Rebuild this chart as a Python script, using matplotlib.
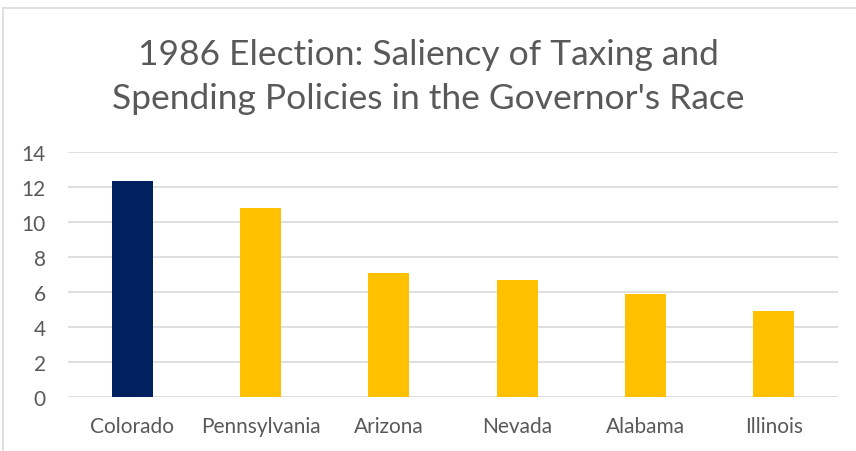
import matplotlib.pyplot as plt
from matplotlib.patches import Rectangle

states = ['Colorado', 'Pennsylvania', 'Arizona', 'Nevada', 'Alabama', 'Illinois']
saliency = [12.35, 10.8, 7.1, 6.7, 5.9, 4.9]
bar_colors = ['#002060', '#FFC000', '#FFC000', '#FFC000', '#FFC000', '#FFC000']

plt.rcParams['font.family'] = ['Lato', 'DejaVu Sans']

fig = plt.figure(figsize=(8.56, 4.52), dpi=100)
W, H = 856, 452
# chart border (cropped at right and bottom)
fig.patches.append(Rectangle((3 / W, -0.1), 1.1, 1 - 9 / H + 0.1, transform=fig.transFigure,
                             fill=False, edgecolor='#d9d9d9', linewidth=1.2))

ax = fig.add_axes([68 / W, 1 - 398 / H, (838 - 68) / W, (398 - 153) / H])
x = range(len(states))
ax.bar(x, saliency, width=0.32, color=bar_colors, zorder=3)

ax.set_xlim(-0.5, len(states) - 0.5)
ax.set_ylim(0, 14)
ax.set_yticks(range(0, 15, 2))
ax.set_xticks(list(x))
ax.set_xticklabels(states)
ax.grid(axis='y', color='#d9d9d9', linewidth=1.2, zorder=0)
for s in ax.spines.values():
    s.set_visible(False)
ax.tick_params(length=0, labelsize=15, colors='#595959')
ax.tick_params(axis='y', pad=16)
ax.tick_params(axis='x', pad=14)

fig.text(0.5, 1 - 77 / H, "1986 Election: Saliency of Taxing and\nSpending Policies in the Governor's Race",
         ha='center', va='center', fontsize=25.5, color='#595959', linespacing=1.45)

fig.savefig('out.png', dpi=100)
